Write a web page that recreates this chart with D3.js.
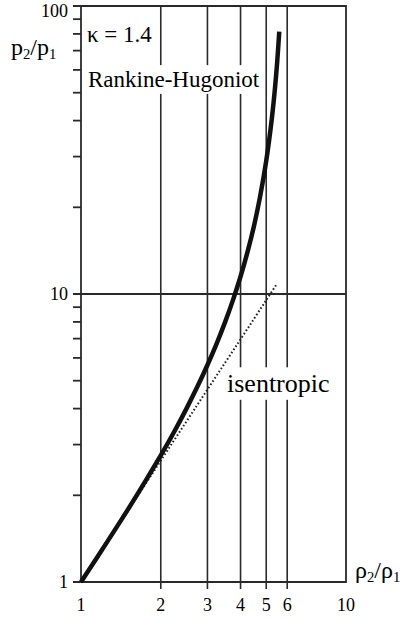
<!DOCTYPE html>
<html>
<head>
<meta charset="utf-8">
<script src="https://cdn.jsdelivr.net/npm/d3@7"></script>
</head>
<body style="margin:0">
<div id="chart"></div>
<script>
// Chart size and the plot frame inside it
var svgWidth = 404;
var svgHeight = 619;
var frame = { left: 81, right: 346, top: 6, bottom: 582 };

// Data
var xGridValues = [2, 3, 4, 5, 6];
var xTickLabels = [1, 2, 3, 4, 5, 6, 10];
var yTickLabels = [1, 10, 100];
var yMinorTicks = [2, 3, 4, 5, 6, 7, 8, 9, 20, 30, 40, 50, 60, 70, 80, 90];

// Rankine-Hugoniot curve (kappa = 1.4)
var rhRho = [1, 1.25, 1.5, 1.75, 2, 2.25, 2.5, 2.75, 3, 3.25, 3.5, 3.75, 4, 4.25, 4.5, 4.75, 5, 5.25, 5.4, 5.5, 5.6];
var rhP   = [1, 1.37, 1.78, 2.24, 2.75, 3.33, 4.0, 4.77, 5.67, 6.73, 8.0, 9.56, 11.5, 14.0, 17.3, 22.0, 29.0, 40.7, 52.3, 64.0, 81.5];

// isentropic curve
var isRho = [1, 1.5, 2, 2.5, 3, 3.5, 4, 4.5, 5, 5.47];
var isP   = [1, 1.76, 2.64, 3.61, 4.66, 5.78, 6.96, 8.21, 9.52, 10.8];

// font shorthand; bigger texts are set at 18px and scaled up
function serifFont(size) {
  return size + "px 'Liberation Serif'";
}
var baseSize = 18;

var svg = d3.select("#chart")
  .append("svg")
  .attr("width", svgWidth)
  .attr("height", svgHeight);

var xScale = d3.scaleLog().domain([1, 10]).range([frame.left, frame.right]);
var yScale = d3.scaleLog().domain([1, 100]).range([frame.bottom, frame.top]);

var ink = "#2a2a2a";

// vertical grid lines (they poke a little below the axis)
svg.append("g").selectAll("line")
  .data(xGridValues)
  .enter()
  .append("line")
  .attr("x1", d => xScale(d))
  .attr("x2", d => xScale(d))
  .attr("y1", frame.top)
  .attr("y2", frame.bottom + 7)
  .attr("stroke", ink)
  .attr("stroke-width", 1.6);

// horizontal grid line at 10 (and the frame lines at 1 / 100) stick out to the left
svg.append("g").selectAll("line")
  .data(yTickLabels)
  .enter()
  .append("line")
  .attr("x1", frame.left - 8)
  .attr("x2", frame.right)
  .attr("y1", d => yScale(d))
  .attr("y2", d => yScale(d))
  .attr("stroke", ink)
  .attr("stroke-width", 1.8);

// left minor ticks
svg.append("g").selectAll("line")
  .data(yMinorTicks)
  .enter()
  .append("line")
  .attr("x1", frame.left - 8)
  .attr("x2", frame.left)
  .attr("y1", d => yScale(d))
  .attr("y2", d => yScale(d))
  .attr("stroke", ink)
  .attr("stroke-width", 1.8);

// frame
svg.append("rect")
  .attr("x", frame.left)
  .attr("y", frame.top)
  .attr("width", frame.right - frame.left)
  .attr("height", frame.bottom - frame.top)
  .attr("fill", "none")
  .attr("stroke", ink)
  .attr("stroke-width", 1.8);

// curves
var line = d3.line()
  .x(d => xScale(d[0]))
  .y(d => yScale(d[1]))
  .curve(d3.curveCatmullRom);

svg.append("path")
  .datum(d3.zip(isRho, isP))
  .attr("d", line)
  .attr("fill", "none")
  .attr("stroke", "#222")
  .attr("stroke-width", 2)
  .attr("stroke-dasharray", "1.6,2.2");

svg.append("path")
  .datum(d3.zip(rhRho, rhP))
  .attr("d", line)
  .attr("fill", "none")
  .attr("stroke", "#111")
  .attr("stroke-width", 4.5);

// labels on a white patch that hides the grid behind them
var labels = [
  { x: 87, y: 42, size: 23, text: "κ = 1.4", w: 66 },
  { x: 88, y: 87, size: 23, text: "Rankine-Hugoniot", w: 175 },
  { x: 227, y: 392, size: 26, text: "isentropic", w: 105 }
];

svg.append("g").selectAll("rect")
  .data(labels)
  .enter()
  .append("rect")
  .attr("x", d => d.x - 2)
  .attr("y", d => d.y - d.size * 0.95)
  .attr("width", d => d.w)
  .attr("height", d => d.size * 1.25)
  .attr("fill", "#fff");

svg.append("g").selectAll("text")
  .data(labels)
  .enter()
  .append("text")
  .attr("transform", d => `translate(${d.x},${d.y}) scale(${d.size / baseSize})`)
  .style("font", serifFont(baseSize))
  .text(d => d.text);

// tick labels ("100" is pushed down so it stays inside the picture)
svg.append("g").selectAll("text")
  .data(yTickLabels)
  .enter()
  .append("text")
  .attr("x", frame.left - 13)
  .attr("y", d => d === 100 ? 17 : yScale(d) + 6)
  .attr("text-anchor", "end")
  .style("font", serifFont(18))
  .text(d => d);

svg.append("g").selectAll("text")
  .data(xTickLabels)
  .enter()
  .append("text")
  .attr("x", d => xScale(d))
  .attr("y", 611)
  .attr("text-anchor", "middle")
  .style("font", serifFont(18))
  .text(d => d);

// axis titles: letter, subscript, slash, letter, subscript (set at 18px, scaled to 24px)
var titles = [
  { x: 11, y: 55, letter: "p" },
  { x: 355, y: 578, letter: "ρ" }
];

var titleText = svg.append("g").selectAll("text")
  .data(titles)
  .enter()
  .append("text")
  .attr("transform", d => `translate(${d.x},${d.y}) scale(${24 / baseSize})`)
  .style("font", serifFont(baseSize));
titleText.append("tspan").text(d => d.letter);
titleText.append("tspan").style("font", serifFont(11)).attr("dy", 3).text("2");
titleText.append("tspan").attr("dy", -3).text(d => "/" + d.letter);
titleText.append("tspan").style("font", serifFont(11)).attr("dy", 3).text("1");
</script>
</body>
</html>
